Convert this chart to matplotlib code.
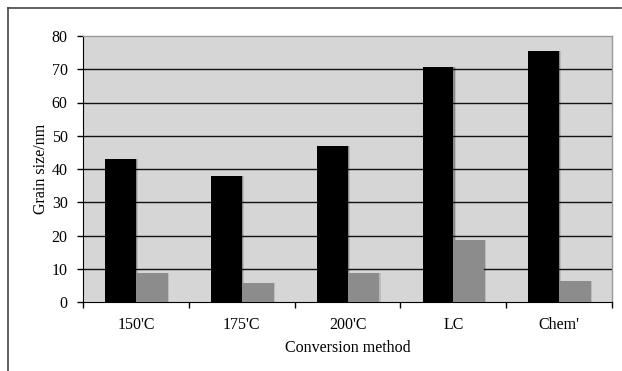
import matplotlib.pyplot as plt
import numpy as np
from matplotlib.lines import Line2D

categories = ["150'C", "175'C", "200'C", "LC", "Chem'"]
black_values = [43, 38, 47, 70.8, 75.5]
gray_values = [8.7, 5.6, 8.7, 18.5, 6.4]
y_ticks = [0, 10, 20, 30, 40, 50, 60, 70, 80]

plt.rcParams["font.family"] = ["Liberation Serif", "DejaVu Serif"]

fig = plt.figure(figsize=(6.22, 3.71), dpi=100)
W, H = 622, 371
ax = fig.add_axes([83 / W, 1 - 302 / H, (612 - 83) / W, (302 - 36) / H])
ax.set_facecolor("#d6d6d6")

x = np.arange(len(categories))
width = 0.29
# soft shadows behind the bars
for dx, alpha in [(0.012, 0.25), (0.022, 0.12)]:
    ax.bar(x - width / 2 + dx, black_values, width, color="black", alpha=alpha, zorder=2)
    ax.bar(x + width / 2 + dx, gray_values, width, color="black", alpha=alpha, zorder=2)
ax.bar(x - width / 2, black_values, width, color="black", zorder=3)
ax.bar(x + width / 2, gray_values, width, color="#8c8c8c", zorder=3)

ax.set_xlim(-0.5, len(categories) - 0.5)
ax.set_ylim(0, 80)
ax.set_yticks(y_ticks)
ax.set_xticks(x)
ax.set_xticklabels(categories)
ax.set_xticks(np.arange(len(categories) + 1) - 0.5, minor=True)
ax.tick_params(axis="x", which="major", length=0, pad=11, labelsize=11.5)
ax.tick_params(axis="x", which="minor", length=4, width=1, direction="out")
ax.tick_params(axis="y", length=4, width=1, direction="out", pad=7, labelsize=11.5)

for v in y_ticks[1:-1]:
    ax.axhline(v, color="#111111", linewidth=1, zorder=1)

for side in ["top", "right"]:
    ax.spines[side].set_color("#999999")
    ax.spines[side].set_linewidth(1)
ax.spines["left"].set_color("black")
ax.spines["bottom"].set_color("black")

ax.set_ylabel("Grain size/nm", fontsize=11.5, labelpad=2)
ax.set_xlabel("Conversion method", fontsize=11.5, labelpad=5)

# outer frame lines (top and left)
fig.add_artist(Line2D([8 / W, 621 / W], [1 - 8 / H, 1 - 8 / H], color="#444444", linewidth=1.2))
fig.add_artist(Line2D([8 / W, 8 / W], [1 - 8 / H, 0], color="#444444", linewidth=1.2))

fig.savefig("out.png", dpi=100)
